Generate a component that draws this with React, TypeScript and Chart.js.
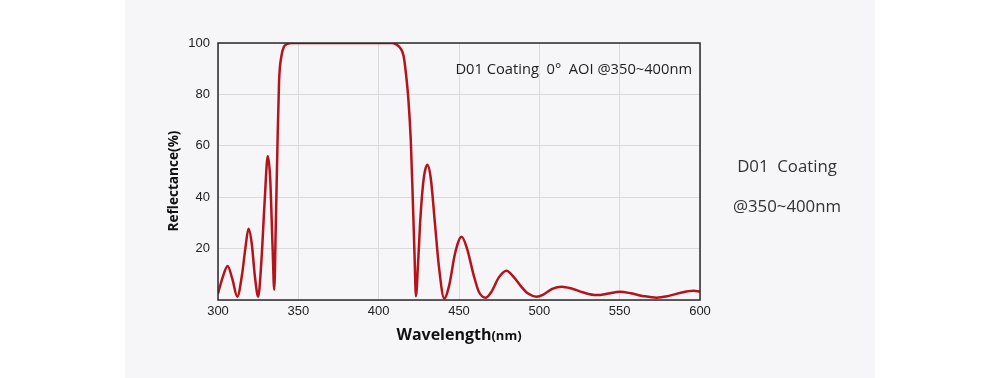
import React, { useEffect, useRef } from "react";
import { Chart, registerables } from "chart.js";

Chart.register(...registerables);

const wavelengths: number[] = [
  300, 303, 306, 309, 312, 315, 317, 319, 321, 323, 325, 327, 329, 331, 332.5, 334, 335,
  336, 337, 338, 339.5, 341, 343, 346, 350, 375, 400, 408, 411, 413.5, 415.5, 417, 418.5,
  420, 421.2, 422.3, 423.2, 424.5, 426, 428, 430.3, 432.5, 435, 437.5, 440.8, 444, 447.5,
  451.6, 455, 459, 462.5, 466.7, 470, 475, 479.6, 484, 489, 493, 498.2, 503, 508, 513.9,
  520, 527, 535.6, 543, 550.2, 557, 565, 573, 580, 588, 595.8, 600,
];
const reflectance: number[] = [
  2.5, 9, 13.2, 8, 1.3, 10, 20, 27.7, 22, 9, 1.3, 15, 38, 56, 47, 20, 4,
  30, 60, 85, 95, 98.5, 99.6, 100, 100, 100, 100, 100, 99.4, 98, 95, 88, 78,
  62, 40, 18, 1.5, 14, 32, 47, 52.6, 47, 30, 13, 0.6, 6, 18,
  24.6, 20, 10, 3, 0.9, 3, 9, 11.4, 9, 5, 2.5, 1.3, 2.3, 4.3, 5.2,
  4.5, 3, 1.9, 2.5, 3.2, 2.6, 1.5, 0.9, 1.5, 2.8, 3.6, 3.3,
];
const xTicks: number[] = [300, 350, 400, 450, 500, 550, 600];
const yTicks: number[] = [0, 20, 40, 60, 80, 100];

const seriesLabel = "D01 Coating 0° AOI @350~400nm";
const annotationText = "D01 Coating  0°  AOI @350~400nm";
const sideLines: string[] = ["D01  Coating", "@350~400nm"];
const yTitle = "Reflectance(%)";
const xTitleMain = "Wavelength";
const xTitleUnit = "(nm)";

const textPlugin = {
  id: "textPlugin",
  beforeDraw(chart: any) {
    const { ctx, chartArea } = chart;
    ctx.save();
    ctx.fillStyle = "#f6f6f8";
    ctx.fillRect(chartArea.left, chartArea.top, chartArea.right - chartArea.left, chartArea.bottom - chartArea.top);
    ctx.restore();
  },
  afterDraw(chart: any) {
    const { ctx, chartArea } = chart;
    const { left, right, top, bottom } = chartArea;
    ctx.save();
    // frame
    ctx.strokeStyle = "#2a2a2a";
    ctx.lineWidth = 1.5;
    ctx.strokeRect(left, top, right - left, bottom - top);

    // annotation inside plot
    ctx.fillStyle = "#1e1e1e";
    ctx.font = "14.7px 'Open Sans'";
    ctx.textAlign = "right";
    ctx.textBaseline = "middle";
    ctx.fillText(annotationText, right - 8, top + 27);

    // y title
    ctx.save();
    ctx.translate(174, 181);
    ctx.rotate(-Math.PI / 2);
    ctx.font = "bold 13.6px 'Open Sans'";
    ctx.textAlign = "center";
    ctx.textBaseline = "middle";
    ctx.fillStyle = "#111";
    ctx.fillText(yTitle, 0, 0);
    ctx.restore();

    // x title
    ctx.font = "bold 16px 'Open Sans'";
    const w1 = ctx.measureText(xTitleMain).width;
    ctx.font = "bold 13px 'Open Sans'";
    const w2 = ctx.measureText(xTitleUnit).width;
    const cx = (left + right) / 2;
    const startX = cx - (w1 + w2) / 2;
    ctx.textAlign = "left";
    ctx.textBaseline = "alphabetic";
    ctx.fillStyle = "#111";
    ctx.font = "bold 16px 'Open Sans'";
    ctx.fillText(xTitleMain, startX, 340);
    ctx.font = "bold 13px 'Open Sans'";
    ctx.fillText(xTitleUnit, startX + w1, 340);

    // side text
    ctx.fillStyle = "#333";
    ctx.font = "16.8px 'Open Sans'";
    ctx.textAlign = "center";
    ctx.textBaseline = "middle";
    ctx.fillText(sideLines[0], 787, 167);
    ctx.fillText(sideLines[1], 787, 207);
    ctx.restore();
  },
};

export default function App() {
  const ref = useRef<HTMLCanvasElement | null>(null);

  useEffect(() => {
    if (!ref.current) return;
    const points = wavelengths.map((x, i) => ({ x, y: reflectance[i] }));
    const chart = new Chart(ref.current, {
      type: "line",
      data: {
        datasets: [
          {
            label: seriesLabel,
            data: points,
            borderColor: "#b3141c",
            borderWidth: 2.5,
            pointRadius: 0,
            fill: false,
            cubicInterpolationMode: "monotone",
          },
        ],
      },
      options: {
        animation: false,
        responsive: false,
        devicePixelRatio: 1,
        layout: { padding: { left: 150, right: 300, top: 43, bottom: 30 } },
        plugins: {
          legend: { display: false },
          tooltip: { enabled: false },
        },
        scales: {
          x: {
            type: "linear",
            min: 300,
            max: 600,
            afterBuildTicks: (scale: any) => {
              scale.ticks = xTicks.map((v) => ({ value: v }));
            },
            afterFit: (scale: any) => {
              scale.height = 48;
            },
            ticks: {
              color: "#222",
              font: { family: "'Liberation Sans', Arial", size: 13 },
              padding: 4,
              maxRotation: 0,
            },
            grid: { color: "#dadada", lineWidth: 1, drawTicks: false },
            border: { display: false },
          },
          y: {
            min: 0,
            max: 100,
            afterBuildTicks: (scale: any) => {
              scale.ticks = yTicks.map((v) => ({ value: v }));
            },
            afterFit: (scale: any) => {
              scale.width = 68;
            },
            ticks: {
              color: "#222",
              font: { family: "'Liberation Sans', Arial", size: 13 },
              padding: 8,
              callback: (v: any) => (v === 0 ? "" : String(v)),
            },
            grid: { color: "#dadada", lineWidth: 1, drawTicks: false },
            border: { display: false },
          },
        },
      },
      plugins: [textPlugin],
    });
    return () => chart.destroy();
  }, []);

  return (
    <div style={{ position: "fixed", left: 0, top: 0, width: 1000, height: 378, background: "#ffffff" }}>
      <div style={{ position: "absolute", left: 125, top: 0, width: 750, height: 378, background: "#f6f6f8" }} />
      <canvas ref={ref} width={1000} height={378} style={{ position: "absolute", left: 0, top: 0, width: 1000, height: 378 }} />
    </div>
  );
}
